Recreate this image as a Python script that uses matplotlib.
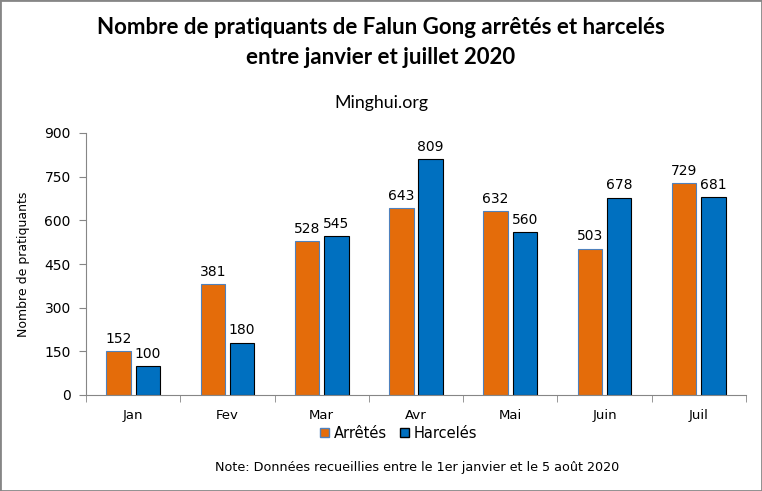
import matplotlib.pyplot as plt
import numpy as np
from matplotlib.patches import Rectangle, Patch

months = ["Jan", "Fev", "Mar", "Avr", "Mai", "Juin", "Juil"]
arretes = [152, 381, 528, 643, 632, 503, 729]
harceles = [100, 180, 545, 809, 560, 678, 681]

ORANGE = "#E46C0A"
BLUE = "#0070C0"

fig = plt.figure(figsize=(7.62, 4.91), dpi=100)
ax = fig.add_axes([86 / 762, 1 - 395 / 491, 660 / 762, 262 / 491])

x = np.arange(len(months))
w = 0.26
ax.bar(x - 0.155, arretes, w, color=ORANGE, edgecolor="#4F81BD", linewidth=0.8)
ax.bar(x + 0.155, harceles, w, color=BLUE, edgecolor="black", linewidth=0.8)

for xi, v in zip(x, arretes):
    ax.text(xi - 0.155, v + 18, str(v), ha="center", va="bottom", fontsize=10)
for xi, v in zip(x, harceles):
    ax.text(xi + 0.155, v + 18, str(v), ha="center", va="bottom", fontsize=10)

ax.set_xlim(-0.5, len(months) - 0.5)
ax.set_ylim(0, 900)
ax.set_yticks(range(0, 901, 150))
ax.set_xticks(x)
ax.set_xticklabels(months, fontsize=9.5)
ax.set_xticks(np.arange(-0.5, len(months), 1), minor=True)
ax.tick_params(axis="x", which="major", length=0, pad=10)
ax.tick_params(axis="x", which="minor", length=5, color="#868686", direction="out")
ax.tick_params(axis="y", length=5, color="#868686", labelsize=10, pad=6)
for s in ["top", "right"]:
    ax.spines[s].set_visible(False)
for s in ["left", "bottom"]:
    ax.spines[s].set_color("#868686")
ax.set_ylabel("Nombre de pratiquants", fontsize=9, labelpad=10)

fig.text(0.5, 1 - 28 / 491, "Nombre de pratiquants de Falun Gong arrêtés et harcelés",
         ha="center", va="center", fontsize=16, fontweight="bold", family="Lato")
fig.text(0.5, 1 - 57 / 491, "entre janvier et juillet 2020",
         ha="center", va="center", fontsize=16, fontweight="bold", family="Lato")
fig.text(0.5, 1 - 103 / 491, "Minghui.org", ha="center", va="center", fontsize=12.8, family="Lato")
fig.text(0.548, 1 - 468 / 491, "Note: Données recueillies entre le 1er janvier et le 5 août 2020",
         ha="center", va="center", fontsize=9.2)

handles = [Patch(facecolor=ORANGE, edgecolor="#4F81BD"), Patch(facecolor=BLUE, edgecolor="black")]
fig.legend(handles, ["Arrêtés", "Harcelés"], loc="center", bbox_to_anchor=(0.523, 1 - 433 / 491),
           ncol=2, frameon=False, fontsize=10.5, handlelength=0.65, handleheight=0.65,
           handletextpad=0.3, columnspacing=0.9)

fig.patches.append(Rectangle((0, 0), 1, 1, transform=fig.transFigure, fill=False,
                             edgecolor="#868686", linewidth=2))

fig.savefig("out.png", dpi=100)
